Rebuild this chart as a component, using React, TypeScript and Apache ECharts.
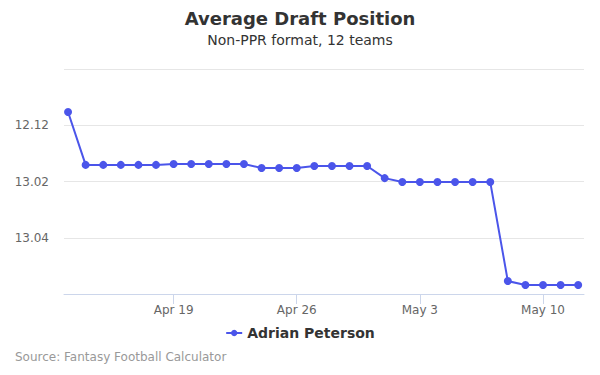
import React, { useEffect, useRef } from "react";
import * as echarts from "echarts";

const dates = [
  "Apr 13", "Apr 14", "Apr 15", "Apr 16", "Apr 17", "Apr 18", "Apr 19", "Apr 20", "Apr 21", "Apr 22",
  "Apr 23", "Apr 24", "Apr 25", "Apr 26", "Apr 27", "Apr 28", "Apr 29", "Apr 30", "May 1", "May 2",
  "May 3", "May 4", "May 5", "May 6", "May 7", "May 8", "May 9", "May 10", "May 11", "May 12",
];
const adp = [
  143.53, 145.41, 145.41, 145.41, 145.41, 145.41, 145.38, 145.38, 145.38, 145.38,
  145.38, 145.52, 145.52, 145.52, 145.45, 145.45, 145.45, 145.45, 145.88, 146.02,
  146.02, 146.02, 146.02, 146.02, 146.02, 149.54, 149.68, 149.68, 149.68, 149.68,
];
const xTickIndexes = [6, 13, 20, 27];
const yLabelValues = [144, 146, 148];
const teams = 12;

const fmtPick = (v: number) => {
  const p = Math.round(v);
  const round = Math.floor((p - 1) / teams) + 1;
  const pick = p - (round - 1) * teams;
  return `${round}.${String(pick).padStart(2, "0")}`;
};

export default function App() {
  const ref = useRef<HTMLDivElement>(null);
  useEffect(() => {
    if (!ref.current) return;
    const chart = echarts.init(ref.current, undefined, { renderer: "svg" });
    const font = "DejaVu Sans, sans-serif";
    chart.setOption({
      animation: false,
      textStyle: { fontFamily: font },
      title: [
        {
          text: "Average Draft Position",
          left: "center",
          top: 9,
          padding: 0,
          textStyle: { fontSize: 18, fontWeight: "bold", color: "#333", fontFamily: font },
        },
        {
          text: "Non-PPR format, 12 teams",
          left: "center",
          top: 33,
          padding: 0,
          textStyle: { fontSize: 14, fontWeight: "normal", color: "#333", fontFamily: font },
        },
        {
          text: "Source: Fantasy Football Calculator",
          left: 15,
          top: 351,
          padding: 0,
          textStyle: { fontSize: 12, fontWeight: "normal", color: "#999", fontFamily: font },
        },
      ],
      legend: {
        top: 326,
        left: "center",
        padding: 0,
        itemWidth: 16,
        itemHeight: 8,
        itemGap: 5,
        data: [{ name: "Adrian Peterson" }],
        textStyle: { fontSize: 14, fontWeight: "bold", color: "#333", fontFamily: font },
      },
      grid: { left: 64, right: 16, top: 69, bottom: 81, containLabel: false },
      xAxis: {
        type: "value",
        min: -0.23,
        max: 29.33,
        axisLine: { show: true, lineStyle: { color: "#ccd6eb" } },
        axisTick: { show: true, customValues: xTickIndexes, length: 10, lineStyle: { color: "#ccd6eb" } },
        axisLabel: {
          customValues: xTickIndexes,
          formatter: (v: number) => dates[Math.round(v)] ?? "",
          color: "#666",
          fontSize: 12,
          margin: 10,
          fontFamily: font,
        },
        splitLine: { show: false },
      },
      yAxis: {
        type: "value",
        inverse: true,
        min: 142,
        max: 150,
        interval: 2,
        axisLine: { show: false },
        axisTick: { show: false },
        axisLabel: {
          customValues: yLabelValues,
          formatter: (v: number) => fmtPick(v),
          color: "#666",
          fontSize: 12,
          margin: 15,
          fontFamily: font,
        },
        splitLine: { show: true, lineStyle: { color: "#e6e6e6" } },
      },
      series: [
        {
          name: "Adrian Peterson",
          type: "line",
          data: adp.map((v, i) => [i, v]),
          symbol: "circle",
          symbolSize: 8,
          showSymbol: true,
          lineStyle: { width: 2, color: "#4b55ea" },
          itemStyle: { color: "#4b55ea" },
        },
      ],
    });
    return () => chart.dispose();
  }, []);
  return <div ref={ref} style={{ width: 600, height: 375, position: "absolute", left: 0, top: 0 }} />;
}
